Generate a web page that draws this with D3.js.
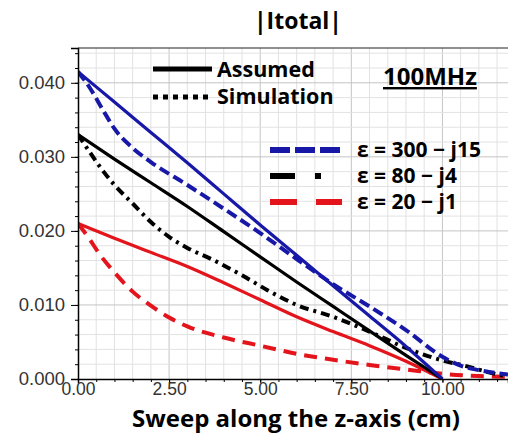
<!DOCTYPE html>
<html>
<head>
<meta charset="utf-8">
<script src="https://cdn.jsdelivr.net/npm/d3@7"></script>
<style>
  html, body { margin: 0; padding: 0; background: #fff; }
  svg { display: block; }
</style>
</head>
<body>
<div id="chart"></div>
<script>
// tick values
const xTicks = [0, 2.5, 5, 7.5, 10];
const yTicks = [0, 0.01, 0.02, 0.03, 0.04];

// series (z in cm, |Itotal|)
const blueAssumed = [[0, 0.0415], [1, 0.0374], [2, 0.0333], [3, 0.0292], [4, 0.0250], [5, 0.0208], [6, 0.0167], [7, 0.0126], [8, 0.0085], [9, 0.0044], [10, 0.0]];
const blueSim = [[0, 0.0415], [0.3, 0.0395], [0.7, 0.0362], [1, 0.0338], [1.5, 0.0312], [2, 0.0293], [3, 0.0262], [4, 0.0230], [5, 0.0197], [6, 0.0162], [7, 0.0128], [8, 0.0098], [9, 0.0066], [10, 0.0030], [10.5, 0.0018], [11, 0.0012], [11.8, 0.0006]];
const blackAssumed = [[0, 0.0330], [1, 0.0297], [2, 0.0265], [3, 0.0233], [4, 0.0199], [5, 0.0165], [6, 0.0131], [7, 0.0098], [8, 0.0065], [9, 0.0032], [10, 0.0]];
const blackSim = [[0, 0.0330], [0.3, 0.0308], [0.7, 0.0280], [1, 0.0262], [1.5, 0.0237], [2, 0.0212], [2.5, 0.0192], [3, 0.0177], [3.7, 0.0161], [4.5, 0.0140], [5.2, 0.0120], [6, 0.0100], [7, 0.0084], [8, 0.0064], [9, 0.0042], [10, 0.0025], [10.6, 0.0018], [11.2, 0.0010], [11.8, 0.0003]];
const redAssumed = [[0, 0.0210], [1, 0.0190], [2, 0.0171], [3, 0.0152], [4, 0.0130], [5, 0.0107], [6, 0.0084], [7, 0.0064], [8, 0.0045], [9, 0.0024], [10, 0.0]];
const redSim = [[0, 0.0210], [0.3, 0.0190], [0.6, 0.0168], [1, 0.0144], [1.5, 0.0118], [2, 0.0099], [2.5, 0.0083], [3, 0.0071], [4, 0.0056], [5, 0.0045], [6, 0.0034], [7, 0.0026], [8, 0.0019], [9, 0.0013], [10, 0.0007], [11, 0.0004], [11.8, 0.0003]];

const legendLabels = ["ε = 300 − j15", "ε = 80 − j4", "ε = 20 − j1"];

const W = 508, H = 433;
const margin = { top: 48, right: 0, bottom: 54, left: 78 };

const svg = d3.select("#chart").append("svg")
    .attr("width", W).attr("height", H);

const x = d3.scaleLinear().domain([0, 11.8]).range([margin.left, W - margin.right]);
const y = d3.scaleLinear().domain([0, 0.0447]).range([H - margin.bottom, margin.top]);

// grid
const grid = svg.append("g");
grid.selectAll(".vx").data(d3.range(0.5, 11.8, 0.5)).enter().append("line")
    .attr("x1", d => x(d)).attr("x2", d => x(d))
    .attr("y1", y.range()[1]).attr("y2", y.range()[0])
    .attr("stroke", d => (d % 2.5 === 0) ? "#c4c4c4" : "#e2e2e2").attr("stroke-width", 1);
grid.selectAll(".hy").data(d3.range(1, 23).map(i => i * 0.002)).enter().append("line")
    .attr("x1", x.range()[0]).attr("x2", x.range()[1])
    .attr("y1", d => y(d)).attr("y2", d => y(d))
    .attr("stroke", (d, i) => ((i + 1) % 5 === 0) ? "#c4c4c4" : "#e2e2e2").attr("stroke-width", 1);

// curves
const line = d3.line().x(d => x(d[0])).y(d => y(d[1])).curve(d3.curveMonotoneX);
svg.append("clipPath").attr("id", "clip").append("rect")
    .attr("x", margin.left).attr("y", margin.top)
    .attr("width", W - margin.left).attr("height", y(0) - margin.top);
const plot = svg.append("g").attr("clip-path", "url(#clip)");

const curves = [
    { data: redSim, color: "#e3141b", width: 4, dash: "13,8" },
    { data: redAssumed, color: "#e3141b", width: 3.2, dash: null },
    { data: blackSim, color: "#000", width: 4, dash: "9,5,3,5" },
    { data: blackAssumed, color: "#000", width: 3.2, dash: null },
    { data: blueSim, color: "#1818a8", width: 4, dash: "11,5" },
    { data: blueAssumed, color: "#1818a8", width: 3.2, dash: null }
];
plot.selectAll(".curve").data(curves).enter().append("path")
    .attr("d", d => line(d.data))
    .attr("fill", "none")
    .attr("stroke", d => d.color)
    .attr("stroke-width", d => d.width)
    .attr("stroke-dasharray", d => d.dash);

// axes
const axisFont = "'Liberation Sans', Arial, sans-serif";
const yAxis = svg.append("g").attr("transform", `translate(${margin.left},0)`)
    .call(d3.axisLeft(y).tickValues(yTicks).tickFormat(d3.format(".3f")).tickSize(7).tickPadding(6));
svg.append("g").attr("transform", `translate(${margin.left},0)`)
    .call(d3.axisLeft(y).tickValues(d3.range(1, 23).map(i => i * 0.002)).tickFormat("").tickSize(3))
    .select(".domain").remove();
yAxis.selectAll("text").style("font-family", axisFont).style("font-size", "18.5px").attr("fill", "#333");

const xAxis = svg.append("g").attr("transform", `translate(0,${y(0)})`)
    .call(d3.axisBottom(x).tickValues(xTicks).tickFormat(d3.format(".2f")).tickSize(4).tickPadding(0));
svg.append("g").attr("transform", `translate(0,${y(0)})`)
    .call(d3.axisBottom(x).tickValues(d3.range(0.5, 11.8, 0.5)).tickFormat("").tickSize(3))
    .select(".domain").remove();
xAxis.selectAll("text").style("font-family", axisFont).style("font-size", "17.5px").attr("fill", "#333");
svg.selectAll(".domain").attr("stroke", "#000").attr("stroke-width", 1.5);

// top frame
svg.append("line").attr("x1", margin.left).attr("x2", W)
    .attr("y1", margin.top).attr("y2", margin.top).attr("stroke", "#222").attr("stroke-width", 1.2);

const boldFont = "'Open Sans', Lato, sans-serif";

// title
svg.append("text").attr("x", 298).attr("y", 29).attr("text-anchor", "middle")
    .style("font-family", boldFont).style("font-weight", "bold").style("font-size", "23px")
    .text("|Itotal|");

// x title
svg.append("text").attr("x", 296).attr("y", 427).attr("text-anchor", "middle")
    .style("font-family", boldFont).style("font-weight", "bold").style("font-size", "24px")
    .text("Sweep along the z-axis (cm)");

// legend: line type
svg.append("line").attr("x1", 153).attr("x2", 212).attr("y1", 69).attr("y2", 69)
    .attr("stroke", "#000").attr("stroke-width", 5);
svg.append("line").attr("x1", 153).attr("x2", 212).attr("y1", 97).attr("y2", 97)
    .attr("stroke", "#000").attr("stroke-width", 5).attr("stroke-dasharray", "5,5");
svg.append("text").attr("x", 217).attr("y", 77)
    .style("font-family", boldFont).style("font-weight", "bold").style("font-size", "21.5px")
    .text("Assumed");
svg.append("text").attr("x", 217).attr("y", 104)
    .style("font-family", boldFont).style("font-weight", "bold").style("font-size", "21.5px")
    .text("Simulation");

svg.append("text").attr("x", 383).attr("y", 85)
    .style("font-family", boldFont).style("font-weight", "bold").style("font-size", "24px")
    .style("text-decoration", "underline")
    .text("100MHz");

// legend: permittivity
const legItems = [
    { label: legendLabels[0], color: "#1818a8", dash: "20,5", y: 150 },
    { label: legendLabels[1], color: "#000", dash: "25,20,6,40", y: 176 },
    { label: legendLabels[2], color: "#e3141b", dash: "27,19", y: 202 }
];
const leg = svg.selectAll(".leg").data(legItems).enter().append("g");
leg.append("line").attr("x1", 270).attr("x2", 342)
    .attr("y1", d => d.y).attr("y2", d => d.y)
    .attr("stroke", d => d.color).attr("stroke-width", 6)
    .attr("stroke-dasharray", d => d.dash);
leg.append("text").attr("x", 357).attr("y", d => d.y + 7)
    .style("font-family", boldFont).style("font-weight", "bold").style("font-size", "21px")
    .text(d => d.label);
</script>
</body>
</html>
